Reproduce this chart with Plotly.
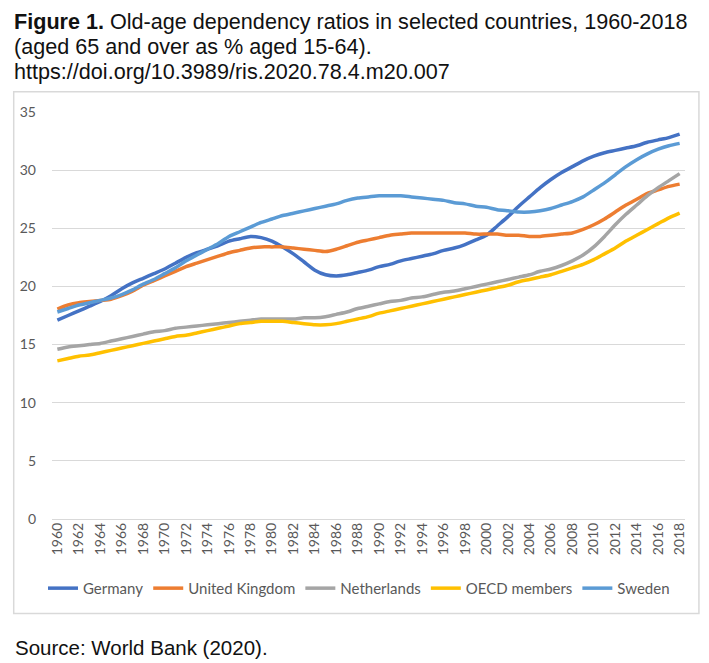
import plotly.graph_objects as go

years = list(range(1960, 2019))

germany = [
    17.1, 17.5, 17.9, 18.3, 18.7, 19.2, 19.8, 20.3, 20.7, 21.1,
    21.5, 22.0, 22.5, 22.9, 23.2, 23.5, 23.9, 24.1, 24.3, 24.2,
    23.9, 23.4, 22.8, 22.1, 21.4, 21.0, 20.9, 21.0, 21.2, 21.4,
    21.7, 21.9, 22.2, 22.4, 22.6, 22.8, 23.1, 23.3, 23.6, 24.0,
    24.4, 25.2, 26.0, 26.9, 27.7, 28.5, 29.2, 29.8, 30.3, 30.8,
    31.2, 31.5, 31.7, 31.9, 32.1, 32.4, 32.6, 32.8, 33.1,
]
united_kingdom = [
    18.05, 18.4, 18.6, 18.7, 18.8, 18.9, 19.2, 19.6, 20.1, 20.5,
    20.9, 21.3, 21.7, 22.0, 22.3, 22.6, 22.9, 23.1, 23.3, 23.4,
    23.4, 23.4, 23.3, 23.2, 23.1, 23.0, 23.2, 23.5, 23.8, 24.0,
    24.2, 24.4, 24.5, 24.6, 24.6, 24.6, 24.6, 24.6, 24.6, 24.5,
    24.5, 24.5, 24.4, 24.4, 24.3, 24.3, 24.4, 24.5, 24.6, 24.9,
    25.3, 25.8, 26.4, 27.0, 27.5, 28.0, 28.3, 28.6, 28.8,
]
netherlands = [
    14.6, 14.8, 14.9, 15.0, 15.1, 15.3, 15.5, 15.7, 15.9, 16.1,
    16.2, 16.4, 16.5, 16.6, 16.7, 16.8, 16.9, 17.0, 17.1, 17.2,
    17.2, 17.2, 17.2, 17.3, 17.3, 17.4, 17.6, 17.8, 18.1, 18.3,
    18.5, 18.7, 18.8, 19.0, 19.1, 19.3, 19.5, 19.6, 19.8, 20.0,
    20.2, 20.4, 20.6, 20.8, 21.0, 21.3, 21.5, 21.8, 22.2, 22.7,
    23.4, 24.3, 25.3, 26.2, 27.0, 27.8, 28.5, 29.1, 29.7,
]
oecd_members = [
    13.6, 13.8, 14.0, 14.1, 14.3, 14.5, 14.7, 14.9, 15.1, 15.3,
    15.5, 15.7, 15.8, 16.0, 16.2, 16.4, 16.6, 16.8, 16.9, 17.0,
    17.0, 17.0, 16.9, 16.8, 16.7, 16.7, 16.8, 17.0, 17.2, 17.4,
    17.7, 17.9, 18.1, 18.3, 18.5, 18.7, 18.9, 19.1, 19.3, 19.5,
    19.7, 19.9, 20.1, 20.4, 20.6, 20.8, 21.0, 21.3, 21.6, 21.9,
    22.3, 22.8, 23.3, 23.9, 24.4, 24.9, 25.4, 25.9, 26.3,
]
sweden = [
    17.8, 18.1, 18.4, 18.6, 18.8, 19.0, 19.3, 19.7, 20.2, 20.6,
    21.1, 21.6, 22.2, 22.7, 23.2, 23.7, 24.3, 24.7, 25.1, 25.5,
    25.8, 26.1, 26.3, 26.5, 26.7, 26.9, 27.1, 27.4, 27.6, 27.7,
    27.8, 27.8, 27.8, 27.7, 27.6, 27.5, 27.4, 27.2, 27.1, 26.9,
    26.8, 26.6, 26.5, 26.4, 26.4, 26.5, 26.7, 27.0, 27.3, 27.7,
    28.3, 28.9, 29.6, 30.3, 30.9, 31.4, 31.8, 32.1, 32.3,
]

series = [
    ("Germany", germany, "#4472C4"),
    ("United Kingdom", united_kingdom, "#ED7D31"),
    ("Netherlands", netherlands, "#A5A5A5"),
    ("OECD members", oecd_members, "#FFC000"),
    ("Sweden", sweden, "#5B9BD5"),
]

title_lines = [
    "<b>Figure 1.</b> Old-age dependency ratios in selected countries, 1960-2018",
    "(aged 65 and over as % aged 15-64).",
    "https://doi.org/10.3989/ris.2020.78.4.m20.007",
]
source_text = "Source: World Bank (2020)."

fig = go.Figure()
for name, values, colour in series:
    fig.add_trace(go.Scatter(
        x=years, y=values, name=name, mode="lines",
        line=dict(color=colour, width=3.5, shape="spline", smoothing=0.6),
    ))

tick_font = dict(family="Lato, Open Sans, sans-serif", size=14, color="#595959")

# the page body adds an 8px margin, so the figure is 8px smaller than the window
fig.update_layout(
    width=701,
    height=655,
    margin=dict(l=39, r=24, t=104, b=144),
    paper_bgcolor="white",
    plot_bgcolor="white",
    showlegend=True,
    legend=dict(
        orientation="h",
        x=0.485, xanchor="center",
        y=-0.1705, yanchor="middle",
        font=dict(family="Lato, Open Sans, sans-serif", size=15, color="#595959"),
        itemwidth=30,
        tracegroupgap=0,
    ),
    xaxis=dict(
        range=[1959.5, 2018.5],
        tickmode="linear", tick0=1960, dtick=2,
        tickangle=-90,
        showgrid=False, zeroline=False, showline=False,
        ticks="", tickfont=tick_font,
    ),
    yaxis=dict(
        range=[0, 35],
        tickmode="linear", tick0=0, dtick=5,
        showgrid=True, gridcolor="#D9D9D9", gridwidth=1,
        zeroline=True, zerolinecolor="#D9D9D9", zerolinewidth=1,
        showline=False, ticks="", tickfont=tick_font,
        ticklabelstandoff=15,
    ),
)

# light grey frame round the chart, as in the Excel export
fig.add_shape(
    type="rect", xref="paper", yref="paper",
    x0=-0.0605, x1=1.022, y0=-0.232, y1=1.05,
    line=dict(color="#D9D9D9", width=1.5), layer="below",
)

title_font = dict(family="Liberation Sans, Arial, sans-serif", size=21.6, color="#111111")
source_font = dict(family="Liberation Sans, Arial, sans-serif", size=20.5, color="#111111")

for i, line in enumerate(title_lines):
    fig.add_annotation(
        xref="paper", yref="paper", x=-0.0611, y=1.2566 - i * 25 / 406.4,
        xanchor="left", yanchor="top", align="left", showarrow=False,
        borderpad=0, text=line, font=title_font,
    )
fig.add_annotation(
    xref="paper", yref="paper", x=-0.0611, y=-0.2837,
    xanchor="left", yanchor="top", align="left", showarrow=False,
    text=source_text, font=source_font,
)

fig.write_html("out.html")
